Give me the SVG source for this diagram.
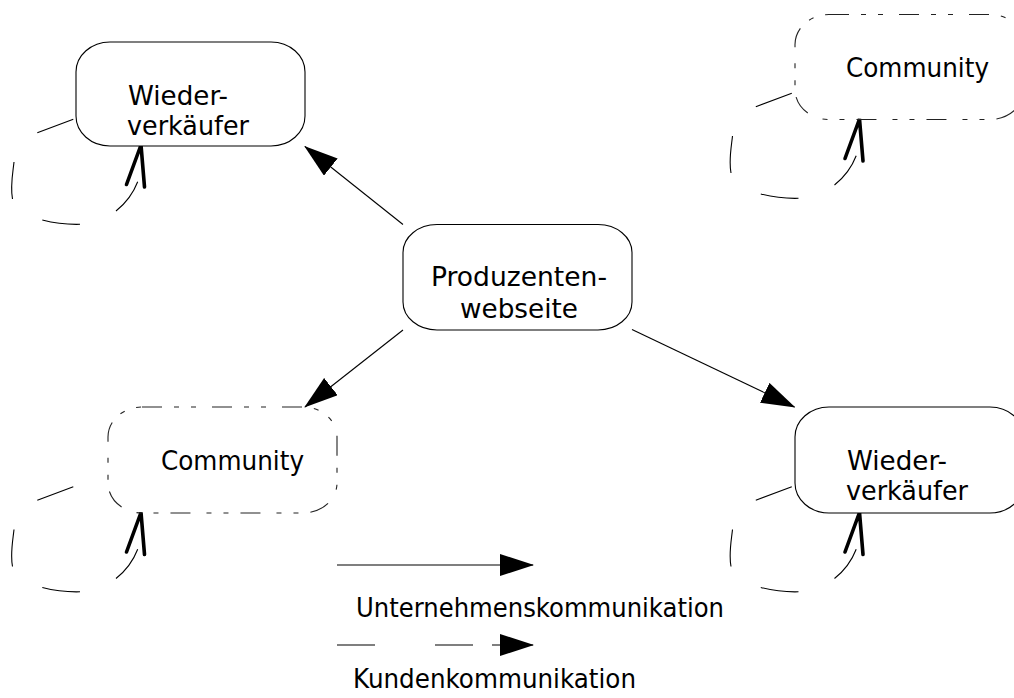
<svg xmlns="http://www.w3.org/2000/svg" xmlns:xlink="http://www.w3.org/1999/xlink" width="1014" height="698" viewBox="0 0 1014 698">
<style>
  .box { fill: #fff; stroke: #000; stroke-width: 1.1; }
  .dashbox { fill: none; stroke: #222; stroke-width: 1.1; stroke-dasharray: 20 12 5 12 5 16; }
  .lbl { font-family: "DejaVu Sans", "Liberation Sans", sans-serif; font-size: 27px; fill: #000; }
  .big { font-size: 26.5px; }
  .leg { font-size: 26px; }
  .conn { fill: none; stroke: #000; stroke-width: 1.1; }
  .dashed { stroke-dasharray: 38 60 38 19 60; }
  .loopline { fill: none; stroke: #000; stroke-width: 1.1; }
  .loophead { fill: none; stroke: #000; stroke-width: 3.6; stroke-linecap: round; stroke-linejoin: miter; }
</style>
<defs>
  <marker id="arrow" markerUnits="userSpaceOnUse" markerWidth="34" markerHeight="22" viewBox="0 0 34 22" refX="33" refY="11" orient="auto">
    <path d="M0,0 L34,11 L0,22 z" fill="#000"/>
  </marker>
  <g id="loop">
    <path class="loopline" d="M73.3,119.3 L37.3,132.7 M14,162 C13,172 10,186 12.5,199 M42.3,220 Q61,224.8 80,224.3 M116,211 Q131,199 137.7,181.7"/>
    <path class="loophead" d="M126.5,184.5 L141,145 L144.5,187"/>
  </g>
</defs>
<rect width="1014" height="698" fill="#fff"/>

<g id="connectors">
  <path class="conn" d="M403,224.5 L305,146.5" marker-end="url(#arrow)"/>
  <path class="conn" d="M403,330 L305,407" marker-end="url(#arrow)"/>
  <path class="conn" d="M632,329.5 L794.5,407" marker-end="url(#arrow)"/>
  <use xlink:href="#loop"/>
  <use xlink:href="#loop" transform="translate(718.5,-26)"/>
  <use xlink:href="#loop" transform="translate(0,367.5)"/>
  <use xlink:href="#loop" transform="translate(718.5,367.5)"/>
</g>

<g id="node-wiederverkaeufer-1">
  <rect class="box" x="76" y="42" width="229" height="104" rx="34" ry="30"/>
  <text class="lbl" x="128" y="105" textLength="100" lengthAdjust="spacingAndGlyphs">Wieder-</text>
  <text class="lbl" x="127" y="135" textLength="122" lengthAdjust="spacingAndGlyphs">verkäufer</text>
</g>

<g id="node-community-1">
  <rect class="dashbox" x="795" y="14.5" width="229" height="105" rx="34" ry="30"/>
  <text class="lbl" x="846" y="77" textLength="143" lengthAdjust="spacingAndGlyphs">Community</text>
</g>

<g id="node-produzentenwebseite">
  <rect class="box" x="403" y="224.5" width="229" height="105.5" rx="34" ry="28"/>
  <text class="lbl big" x="431" y="286" textLength="176" lengthAdjust="spacingAndGlyphs">Produzenten-</text>
  <text class="lbl big" x="460" y="318" textLength="118" lengthAdjust="spacingAndGlyphs">webseite</text>
</g>

<g id="node-community-2">
  <rect class="dashbox" x="108" y="407" width="229" height="106" rx="34" ry="30"/>
  <text class="lbl" x="161" y="470" textLength="143" lengthAdjust="spacingAndGlyphs">Community</text>
</g>

<g id="node-wiederverkaeufer-2">
  <rect class="box" x="795" y="407" width="229" height="106" rx="34" ry="30"/>
  <text class="lbl" x="847" y="470" textLength="100" lengthAdjust="spacingAndGlyphs">Wieder-</text>
  <text class="lbl" x="846" y="500" textLength="122" lengthAdjust="spacingAndGlyphs">verkäufer</text>
</g>

<g id="legend">
  <path class="conn" d="M337,565 L533,565" marker-end="url(#arrow)"/>
  <text class="lbl leg" x="356" y="617" textLength="368" lengthAdjust="spacingAndGlyphs">Unternehmenskommunikation</text>
  <path class="conn dashed" d="M337,645 L533,645" marker-end="url(#arrow)"/>
  <text class="lbl leg" x="353" y="688" textLength="283" lengthAdjust="spacingAndGlyphs">Kundenkommunikation</text>
</g>
</svg>
